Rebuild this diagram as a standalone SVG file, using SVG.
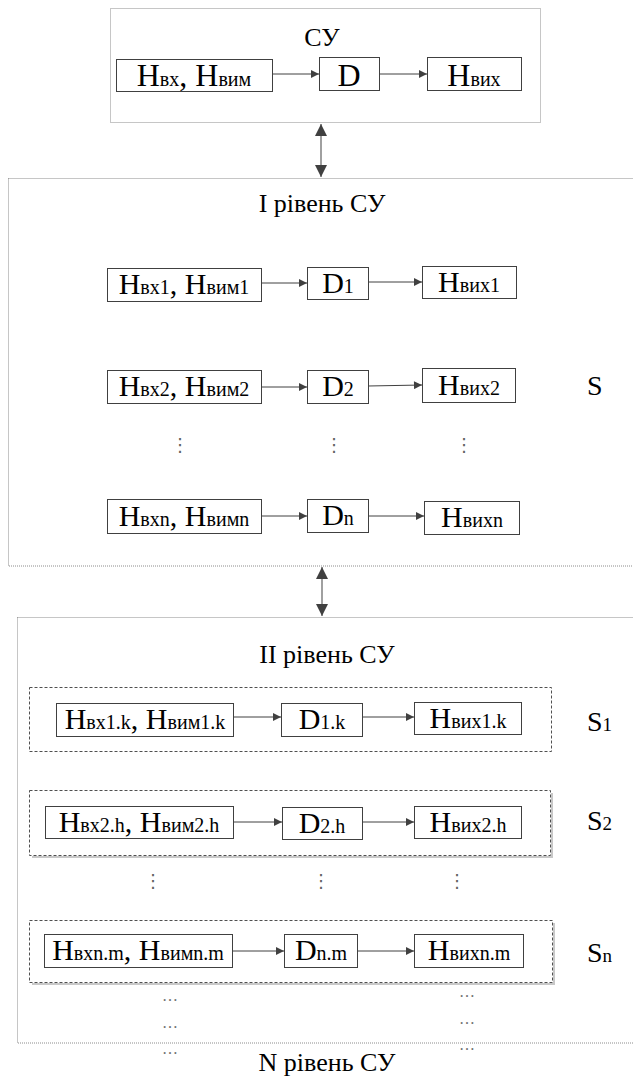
<svg xmlns="http://www.w3.org/2000/svg" width="633" height="1076" viewBox="0 0 633 1076" font-family="'Liberation Serif', 'Times New Roman', 'DejaVu Serif', serif">
<defs>
<style>
.box{fill:#fff;stroke:#404040;stroke-width:1}
.lvl{fill:none;stroke:#8c8c8c;stroke-width:1;stroke-dasharray:1 1}
.grp{fill:none;stroke:#505050;stroke-width:1;stroke-dasharray:3 2}
.shd{fill:none;stroke:#c8c8c8;stroke-width:2}
.t{font-family:'Liberation Serif','Times New Roman','DejaVu Serif',serif;fill:#000;text-anchor:middle}
.lbl{font-size:26px}
.r0{font-size:32px}
.r{font-size:30px}
.s{font-size:20px}
.sl{font-family:'Liberation Serif','Times New Roman','DejaVu Serif',serif;font-size:28px;fill:#000}
.sl .s{font-size:19px}
.dots{font-family:'DejaVu Sans',sans-serif;font-size:18px;fill:#606060;text-anchor:middle}
.ell{font-family:'Liberation Serif','DejaVu Serif',serif;font-size:16px;fill:#707070;text-anchor:middle}
.arr{stroke:#404040;stroke-width:1;fill:none;marker-end:url(#ah)}
.dbl{stroke:#808080;stroke-width:1.5;fill:none;marker-start:url(#dh);marker-end:url(#dh)}
</style>
<marker id="ah" viewBox="0 0 10 10" refX="10" refY="5" markerWidth="9" markerHeight="8" markerUnits="userSpaceOnUse" orient="auto">
<path d="M0,0 L10,5 L0,10 Z" fill="#404040"/>
</marker>
<marker id="dh" viewBox="0 0 10 10" refX="10" refY="5" markerWidth="12" markerHeight="12" markerUnits="userSpaceOnUse" orient="auto-start-reverse">
<path d="M0,0 L10,5 L0,10 Z" fill="#404040"/>
</marker>
</defs>
<rect x="0" y="0" width="633" height="1076" fill="#fff"/>

<g id="top-level">
<rect class="lvl" x="110.5" y="8.5" width="430" height="114"/>
<text class="t lbl" x="322" y="46">СУ</text>
</g>
<g id="level-1">
<rect class="lvl" x="8.5" y="178.5" width="640" height="387.5"/>
<text class="t lbl" x="322" y="212">I рівень СУ</text>
</g>
<g id="level-2">
<rect class="lvl" x="17.5" y="617.5" width="640" height="425.5"/>
<text class="t lbl" x="327" y="663">II рівень СУ</text>
</g>
<g id="level-n">
<text class="t lbl" x="327" y="1071">N рівень СУ</text>
</g>

<g id="n0-in"><rect class="box" x="116.5" y="59.5" width="156" height="32"/><text class="t r0" x="194" y="86">Н<tspan class="s">вх</tspan>, Н<tspan class="s">вим</tspan></text></g>
<g id="n0-d"><rect class="box" x="319.5" y="57.5" width="60" height="33"/><text class="t r0" x="349" y="86">D</text></g>
<g id="n0-out"><rect class="box" x="427.5" y="57.5" width="94" height="33"/><text class="t r0" x="474" y="86">Н<tspan class="s">вих</tspan></text></g>

<g id="n1-in"><rect class="box" x="107.5" y="268.5" width="154" height="33"/><text class="t r" x="184" y="294">Н<tspan class="s">вх1</tspan>, Н<tspan class="s">вим1</tspan></text></g>
<g id="n1-d"><rect class="box" x="307.5" y="267.5" width="61" height="32"/><text class="t r" x="338" y="293">D<tspan class="s">1</tspan></text></g>
<g id="n1-out"><rect class="box" x="422.5" y="266.5" width="94" height="32"/><text class="t r" x="469" y="292">Н<tspan class="s">вих1</tspan></text></g>

<g id="n2-in"><rect class="box" x="107.5" y="370.5" width="154" height="33"/><text class="t r" x="184" y="396">Н<tspan class="s">вх2</tspan>, Н<tspan class="s">вим2</tspan></text></g>
<g id="n2-d"><rect class="box" x="307.5" y="370.5" width="61" height="33"/><text class="t r" x="338" y="396">D<tspan class="s">2</tspan></text></g>
<g id="n2-out"><rect class="box" x="422.5" y="368.5" width="93" height="34"/><text class="t r" x="469" y="395">Н<tspan class="s">вих2</tspan></text></g>
<g id="s-label"><text class="sl" x="587" y="395">S</text></g>

<g id="dots-1">
<text class="dots" x="180" y="451">⋮</text>
<text class="dots" x="334" y="451">⋮</text>
<text class="dots" x="464" y="451">⋮</text>
</g>

<g id="nn-in"><rect class="box" x="107.5" y="499.5" width="154" height="34"/><text class="t r" x="184" y="526">Н<tspan class="s">вхn</tspan>, Н<tspan class="s">вимn</tspan></text></g>
<g id="nn-d"><rect class="box" x="307.5" y="499.5" width="61" height="33"/><text class="t r" x="338" y="525">D<tspan class="s">n</tspan></text></g>
<g id="nn-out"><rect class="box" x="424.5" y="501.5" width="95" height="33"/><text class="t r" x="472" y="527">Н<tspan class="s">вихn</tspan></text></g>

<g id="s1">
<rect class="grp" x="29.5" y="687.5" width="522" height="64"/>
<text class="sl" x="587" y="731">S<tspan class="s">1</tspan></text>
</g>
<g id="s1-in"><rect class="box" x="56.5" y="703.5" width="177" height="33"/><text class="t r" x="145" y="729">Н<tspan class="s">вх1.k</tspan>, Н<tspan class="s">вим1.k</tspan></text></g>
<g id="s1-d"><rect class="box" x="281.5" y="703.5" width="81" height="33"/><text class="t r" x="322" y="729">D<tspan class="s">1.k</tspan></text></g>
<g id="s1-out"><rect class="box" x="414.5" y="702.5" width="107" height="32"/><text class="t r" x="468" y="728">Н<tspan class="s">вих1.k</tspan></text></g>

<g id="s2">
<path class="shd" d="M32,857 H552 V793"/>
<rect class="grp" x="29.5" y="790.5" width="521" height="65"/>
<text class="sl" x="587" y="830">S<tspan class="s">2</tspan></text>
</g>
<g id="s2-in"><rect class="box" x="45.5" y="806.5" width="188" height="32"/><text class="t r" x="139" y="832">Н<tspan class="s">вх2.h</tspan>, Н<tspan class="s">вим2.h</tspan></text></g>
<g id="s2-d"><rect class="box" x="282.5" y="807.5" width="80" height="32"/><text class="t r" x="322" y="833">D<tspan class="s">2.h</tspan></text></g>
<g id="s2-out"><rect class="box" x="414.5" y="806.5" width="107" height="32"/><text class="t r" x="468" y="832">Н<tspan class="s">вих2.h</tspan></text></g>

<g id="dots-2">
<text class="dots" x="153" y="887">⋮</text>
<text class="dots" x="321" y="887">⋮</text>
<text class="dots" x="457" y="887">⋮</text>
</g>

<g id="sn">
<path class="shd" d="M32,984 H554 V923"/>
<rect class="grp" x="29.5" y="920.5" width="523" height="62"/>
<text class="sl" x="587" y="962">S<tspan class="s">n</tspan></text>
</g>
<g id="sn-in"><rect class="box" x="44.5" y="934.5" width="188" height="33"/><text class="t r" x="138" y="960">Н<tspan class="s">вхn.m</tspan>, Н<tspan class="s">вимn.m</tspan></text></g>
<g id="sn-d"><rect class="box" x="284.5" y="934.5" width="73" height="33"/><text class="t r" x="321" y="960">D<tspan class="s">n.m</tspan></text></g>
<g id="sn-out"><rect class="box" x="414.5" y="934.5" width="109" height="33"/><text class="t r" x="469" y="960">Н<tspan class="s">вихn.m</tspan></text></g>

<g id="ellipses">
<text class="ell" x="170" y="1001">…</text>
<text class="ell" x="170" y="1028">…</text>
<text class="ell" x="170" y="1054">…</text>
<text class="ell" x="467" y="997">…</text>
<text class="ell" x="467" y="1024">…</text>
<text class="ell" x="467" y="1050">…</text>
</g>

<g id="connectors">
<line class="arr" x1="272" y1="74" x2="319" y2="74"/>
<line class="arr" x1="379" y1="74" x2="427" y2="74"/>
<line class="dbl" x1="321" y1="124" x2="321" y2="177"/>
<line class="arr" x1="261" y1="283" x2="307" y2="283"/>
<line class="arr" x1="368" y1="282" x2="422" y2="282"/>
<line class="arr" x1="261" y1="387" x2="307" y2="387"/>
<line class="arr" x1="368" y1="386" x2="422" y2="385"/>
<line class="arr" x1="261" y1="516" x2="307" y2="516"/>
<line class="arr" x1="368" y1="516" x2="424" y2="516"/>
<line class="dbl" x1="322" y1="567" x2="322" y2="616"/>
<line class="arr" x1="233" y1="717" x2="281" y2="717"/>
<line class="arr" x1="362" y1="717" x2="414" y2="717"/>
<line class="arr" x1="233" y1="822" x2="282" y2="822"/>
<line class="arr" x1="362" y1="822" x2="414" y2="822"/>
<line class="arr" x1="232" y1="951" x2="284" y2="951"/>
<line class="arr" x1="357" y1="951" x2="414" y2="951"/>
</g>
</svg>
